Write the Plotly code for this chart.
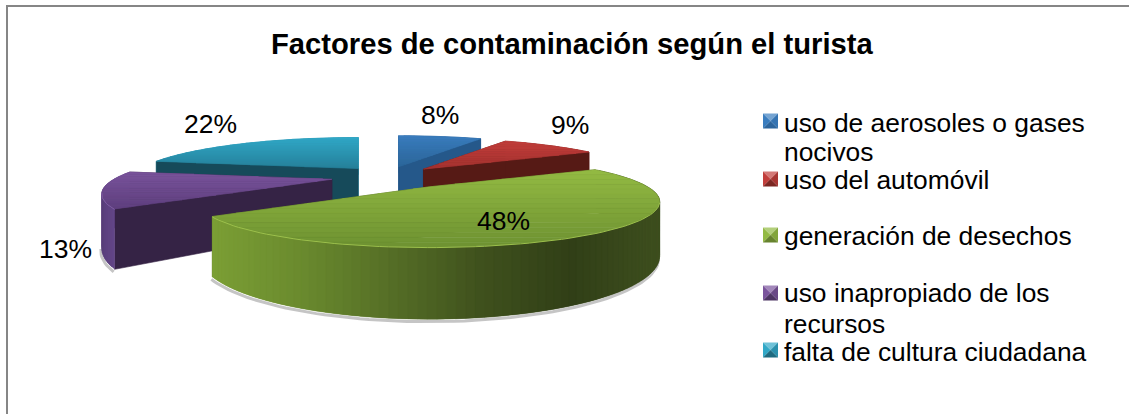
import math
import plotly.graph_objects as go

title = "Factores de contaminación según el turista"
categories = ["uso de aerosoles o gases nocivos", "uso del automóvil", "generación de desechos",
              "uso inapropiado de los recursos", "falta de cultura ciudadana"]
values = [8, 9, 48, 13, 22]

# ---- styling / projection constants (not data) ----
W, H = 1129, 414
X0, Y0 = 388, 176
A, B, K = 218, 41, 0.32
DEPTH = 49
EXPLODE = [0.25, 0.25, 0.36, 0.25, 0.25]
NUDGE = [(-2, 0), (-1, 0), (-5, -3), (-2, 1), (3, 0)]
TOP_COL = [("#3a7dbf", "#2c6699"), ("#c23e3b", "#a53230"), ("#93ba43", "#6e9231"),
           ("#7a549c", "#5e3f7e"), ("#31a8c7", "#26809a")]
RADIAL_COL = ["#25588a", "#561a15", "#4f6522", "#352345", "#164a5a"]
WALL_STOPS = [["#2f6ca6", "#25588a"], ["#8a2a28", "#6a1f1d"],
              ["#7b9f35", "#6a8a2e", "#556e26", "#3f511d", "#313f17", "#3e4f1e"],
              ["#5a3f7c", "#644689", "#5a3f7c"], ["#2fa2bf", "#2690ad"]]
RIM_COL = [None, None, "#9cc04c", "#7f5da3", None]
LABEL_POS = [(440, 115), (570, 125), (503, 221), (65, 249), (210, 124)]
LEG_Y = [121, 179, 235, 293, 350]
LEG_LINES = [[("uso de aerosoles o gases", 123), ("nocivos", 152)], [("uso del automóvil", 180)],
             [("generación de desechos", 236)], [("uso inapropiado de los", 293), ("recursos", 324)],
             [("falta de cultura ciudadana", 352)]]
FONT = "Liberation Sans"
DRAW_ORDER = [4, 0, 1, 3, 2]


def hex2rgb(c):
    return tuple(int(c[i:i + 2], 16) for i in (1, 3, 5))


def mix(c1, c2, t):
    a, b = hex2rgb(c1), hex2rgb(c2)
    return "#%02x%02x%02x" % tuple(round(a[i] + (b[i] - a[i]) * t) for i in range(3))


def ramp(stops, t):
    if len(stops) == 1:
        return stops[0]
    t = min(max(t, 0), 1) * (len(stops) - 1)
    i = min(int(t), len(stops) - 2)
    return mix(stops[i], stops[i + 1], t - i)


def proj(sx, cy):
    w = 1 + K * cy
    return A * sx / w, -B * cy / w


def wall_h(theta):
    return DEPTH / (1 + K * math.cos(theta))


def clip(poly, y0, y1):
    def run(pts, keep, cross):
        out = []
        for i, p in enumerate(pts):
            q = pts[(i + 1) % len(pts)]
            if keep(p):
                out.append(p)
            if keep(p) != keep(q):
                out.append(cross(p, q))
        return out

    def at(yv):
        return lambda p, q: (p[0] + (q[0] - p[0]) * (yv - p[1]) / (q[1] - p[1]), yv)

    pts = run(poly, lambda p: p[1] >= y0, at(y0))
    if pts:
        pts = run(pts, lambda p: p[1] <= y1, at(y1))
    return pts


fig = go.Figure()


def poly(pts, color, name=None, line=0.6):
    xs = [p[0] for p in pts] + [pts[0][0]]
    ys = [p[1] for p in pts] + [pts[0][1]]
    fig.add_trace(go.Scatter(x=xs, y=ys, mode="lines", fill="toself", fillcolor=color,
                             line=dict(color=color, width=line), hoverinfo="skip",
                             showlegend=False, name=name))


total = sum(values)
start = 0.0
spans = []
for v in values:
    spans.append((start, start + v / total * 2 * math.pi))
    start = spans[-1][1]

for i in DRAW_ORDER:
    t0, t1 = spans[i]
    mid = (t0 + t1) / 2
    ox, oy = proj(EXPLODE[i] * math.sin(mid), EXPLODE[i] * math.cos(mid))
    ax, ay = X0 + ox + NUDGE[i][0], Y0 + oy + NUDGE[i][1]
    n = max(6, int((t1 - t0) / 0.03))
    th = [t0 + (t1 - t0) * j / n for j in range(n + 1)]
    rim = []
    for t in th:
        dx, dy = proj(math.sin(t), math.cos(t))
        rim.append((ax + dx, ay + dy))
    bot = [(p[0], p[1] + wall_h(t)) for p, t in zip(rim, th)]
    xmin = min(p[0] for p in rim)
    xmax = max(p[0] for p in rim)

    # the outer wall faces the viewer only between the two silhouette points
    near = [j for j in range(n) if math.cos(th[j]) <= -K]
    far = [j for j in range(n) if math.cos(th[j]) > -K]

    # shadow below the visible outer wall
    if near:
        sh = [bot[j] for j in near] + [bot[near[-1] + 1]]
        fig.add_trace(go.Scatter(x=[p[0] - 1 for p in sh], y=[p[1] + 2.5 for p in sh], mode="lines",
                                 line=dict(color="rgba(90,90,90,0.35)", width=3), hoverinfo="skip",
                                 showlegend=False))

    def wall_seg(j):
        f = ((rim[j][0] + rim[j + 1][0]) / 2 - xmin) / max(xmax - xmin, 1)
        k = min(j + 2, n)
        poly([rim[j], rim[j + 1], rim[k], bot[k], bot[j + 1], bot[j]], ramp(WALL_STOPS[i], f), line=0.3)

    for j in far:
        wall_seg(j)
    a_bot0 = (ax, ay + wall_h(1.5708))
    poly([(ax, ay), rim[-1], bot[-1], a_bot0], WALL_STOPS[4][0] if i == 4 else RADIAL_COL[i])
    poly([(ax, ay), rim[0], bot[0], a_bot0], RADIAL_COL[i])
    for j in near:
        wall_seg(j)

    face = [(ax, ay)] + rim
    ys = [p[1] for p in face]
    y_top, y_bot = min(ys), max(ys)
    bands = 16
    for b in range(bands):
        y0 = y_top + (y_bot - y_top) * b / bands
        y1 = y_top + (y_bot - y_top) * (b + 1) / bands
        pts = clip(face, y0, y1)
        if len(pts) >= 3:
            poly(pts, mix(TOP_COL[i][0], TOP_COL[i][1], (b + .5) / bands), name=categories[i])

    if RIM_COL[i] and near:
        seg = [rim[j] for j in near] + [rim[near[-1] + 1]]
        fig.add_trace(go.Scatter(x=[p[0] for p in seg], y=[p[1] + 0.5 for p in seg], mode="lines",
                                 line=dict(color=RIM_COL[i], width=1), hoverinfo="skip",
                                 showlegend=False))

for i, yc in enumerate(LEG_Y):
    x0, x1, y0, y1 = 763, 778, yc - 7.5, yc + 7.5
    xc, ym = (x0 + x1) / 2, (y0 + y1) / 2
    light, dark = TOP_COL[i][0], RADIAL_COL[i]
    poly([(x0, y0), (x1, y0), (xc, ym)], mix(light, "#ffffff", 0.3), line=0)
    poly([(x0, y0), (x0, y1), (xc, ym)], light, line=0)
    poly([(x1, y0), (x1, y1), (xc, ym)], mix(light, dark, 0.25), line=0)
    poly([(x0, y1), (x1, y1), (xc, ym)], mix(light, dark, 0.65), line=0)

ann = []
for lines in LEG_LINES:
    for txt, y in lines:
        ann.append(dict(x=782, y=y, xref="x", yref="y", text=txt, showarrow=False, xanchor="left",
                        yanchor="middle", font=dict(family=FONT, size=26.4, color="#000000")))
for v, (x, y) in zip(values, LABEL_POS):
    ann.append(dict(x=x, y=y, xref="x", yref="y", text=f"{v}%", showarrow=False,
                    font=dict(family=FONT, size=26.5, color="#000000")))
ann.append(dict(x=572, y=44, xref="x", yref="y", text=f"<b>{title}</b>", showarrow=False,
                font=dict(family=FONT, size=29.2, color="#000000")))

fig.update_layout(
    width=W, height=H, margin=dict(l=0, r=0, t=0, b=0), paper_bgcolor="white", plot_bgcolor="white",
    showlegend=False, annotations=ann,
    xaxis=dict(range=[0, W], visible=False, fixedrange=True),
    yaxis=dict(range=[H, 0], visible=False, fixedrange=True),
    shapes=[dict(type="line", xref="x", yref="y", x0=6, x1=W, y0=6, y1=6, line=dict(color="#868686", width=2)),
            dict(type="line", xref="x", yref="y", x0=7, x1=7, y0=6, y1=H, line=dict(color="#868686", width=2))],
)
fig.write_html("out.html", config={"displayModeBar": False},
               post_script="document.body.style.margin='0';")
